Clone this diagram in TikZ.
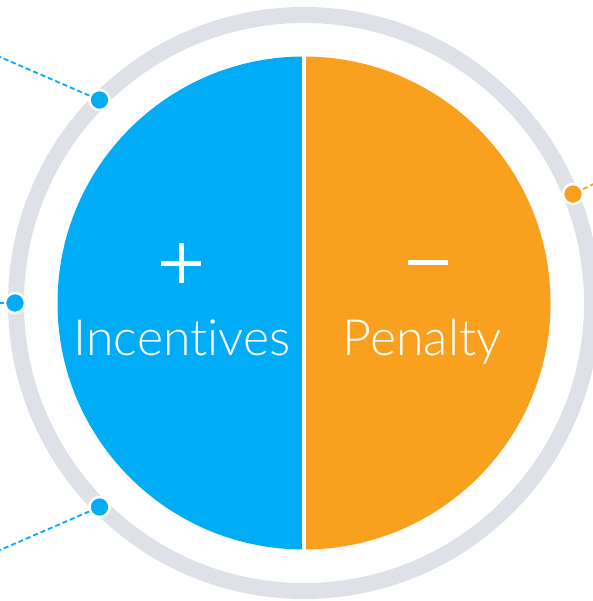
\documentclass[tikz,border=0pt]{standalone}
\usepackage{fontspec}
\newfontfamily\lightfont{Lato Light}[Ligatures={NoCommon}]
\definecolor{cblue}{HTML}{00ACF5}
\definecolor{corange}{HTML}{F9A01F}
\definecolor{cgrey}{HTML}{DEE2E8}
\tikzset{
  dotblue/.style={circle, fill=cblue, draw=white, line width=2.5pt, minimum size=20pt, inner sep=0pt},
  dotorange/.style={circle, fill=corange, draw=white, line width=2.5pt, minimum size=20pt, inner sep=0pt},
  leader/.style={line width=1.8pt, dash pattern=on 5pt off 3pt},
  label/.style={text=white, font=\lightfont\fontsize{50}{50}\selectfont, anchor=base, inner sep=0pt},
  sign/.style={white, line width=5pt}
}
\begin{document}
\begin{tikzpicture}[x=1pt, y=-1pt]
\useasboundingbox (0,0) rectangle (592,601);
\coordinate (c) at (304,303);
% leader ends
\coordinate (e1) at (0,57);
\coordinate (e2) at (0,303);
\coordinate (e3) at (0,550);
\coordinate (e4) at (600,181);
% ring
\draw[cgrey, line width=16pt] (c) circle[radius=288];
% halves
\fill[cblue] (304,56.5) arc[start angle=-90, end angle=-270, radius=246.5] -- cycle;
\fill[corange] (304,56.5) arc[start angle=-90, end angle=90, radius=246.5] -- cycle;
\draw[white, line width=4pt] (304,50) -- (304,556);
% dots
\node[dotblue] (d1) at (99.5,100) {};
\node[dotblue] (d2) at (15,303) {};
\node[dotblue] (d3) at (99.5,507) {};
\node[dotorange] (d4) at (573,194) {};
\draw[leader, cblue] (d1) -- (e1);
\draw[leader, cblue] (d2) -- (e2);
\draw[leader, cblue] (d3) -- (e3);
\draw[leader, corange] (d4) -- (e4);
% signs
\draw[sign] (161,263) -- (201,263);
\draw[sign] (181,243) -- (181,283);
\draw[sign] (408,262) -- (448,262);
% labels
\node[label] (inc) at (182,355) {Incentives};
\node[label] (pen) at (422,355) {Penalty};
\end{tikzpicture}
\end{document}
